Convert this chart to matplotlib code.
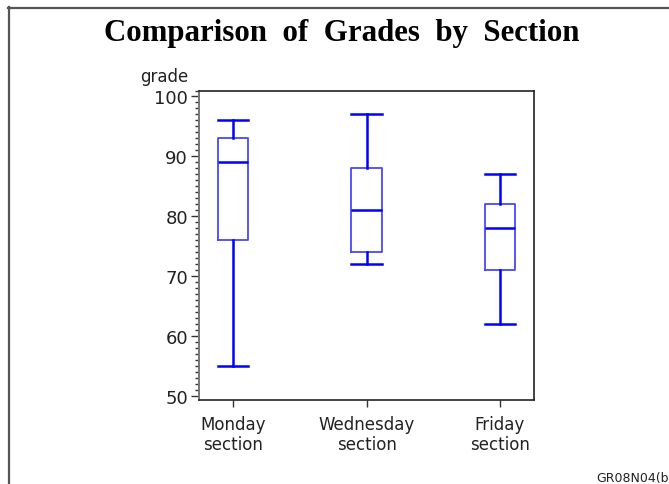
import matplotlib
matplotlib.use("Agg")
import matplotlib.pyplot as plt
from matplotlib.lines import Line2D
from matplotlib.ticker import MultipleLocator

# Grade summaries per section
sections = ["Monday\nsection", "Wednesday\nsection", "Friday\nsection"]
whisker_low = [55, 72, 62]
q1 = [76, 74, 71]
median = [89, 81, 78]
q3 = [93, 88, 82]
whisker_high = [96, 97, 87]

W, H = 669, 485
fig = plt.figure(figsize=(W / 100, H / 100), dpi=100)
fig.patch.set_facecolor("white")

# Outer frame (top and left edges visible)
fig.add_artist(Line2D([8.5 / W, 8.5 / W], [0, 1 - 8 / H], transform=fig.transFigure,
                      color="#555555", lw=1.6))
fig.add_artist(Line2D([8 / W, 1], [1 - 8.5 / H, 1 - 8.5 / H], transform=fig.transFigure,
                      color="#555555", lw=1.6))

ax = fig.add_axes([199 / W, 1 - 401 / H, (534 - 199) / W, (401 - 91.5) / H])

stats = []
for lo, a, m, b, hi in zip(whisker_low, q1, median, q3, whisker_high):
    stats.append(dict(whislo=lo, q1=a, med=m, q3=b, whishi=hi, fliers=[]))

positions = [1, 2, 3]
ax.bxp(stats, positions=positions, widths=0.225, showfliers=False,
       boxprops=dict(color="#4848ff", lw=1.3),
       medianprops=dict(color="#0000ff", lw=1.8),
       whiskerprops=dict(color="#0000ff", lw=1.8),
       capprops=dict(color="#0000ff", lw=1.8),
       capwidths=0.225)

ax.set_xlim(0.745, 3.255)
ax.set_ylim(49.4, 101.0)
ax.set_xticks(positions)
ax.set_xticklabels(sections, fontsize=12, color="#222222", linespacing=1.15)
ax.yaxis.set_major_locator(MultipleLocator(10))
ax.yaxis.set_minor_locator(MultipleLocator(1))
ax.tick_params(axis="y", which="major", length=6, width=1, labelsize=13,
               colors="#333333", pad=2)
ax.tick_params(axis="y", which="minor", length=3, width=1, colors="#333333")
ax.tick_params(axis="x", which="major", length=5, width=1, colors="#333333",
               labelsize=12, pad=6)
for lbl in ax.get_xticklabels():
    lbl.set_color("#222222")
for lbl in ax.get_yticklabels():
    lbl.set_color("#222222")

for side in ["top", "right", "bottom"]:
    ax.spines[side].set_color("#222222")
    ax.spines[side].set_linewidth(1.2)
ax.spines["left"].set_color("#777777")
ax.spines["left"].set_linewidth(1.4)

fig.text(164 / W, 1 - 77 / H, "grade", ha="center", va="center",
         fontsize=12, color="#222222")

fig.text(341.5 / W, 1 - 33 / H, "Comparison  of  Grades  by  Section",
         ha="center", va="center", fontsize=22.2, fontweight="bold",
         family="Liberation Serif", color="black")

fig.text(596 / W, 1 - 479 / H, "GR08N04(b", ha="left", va="center",
         fontsize=9, color="#222222")

fig.savefig("out.png", dpi=100, facecolor="white")
